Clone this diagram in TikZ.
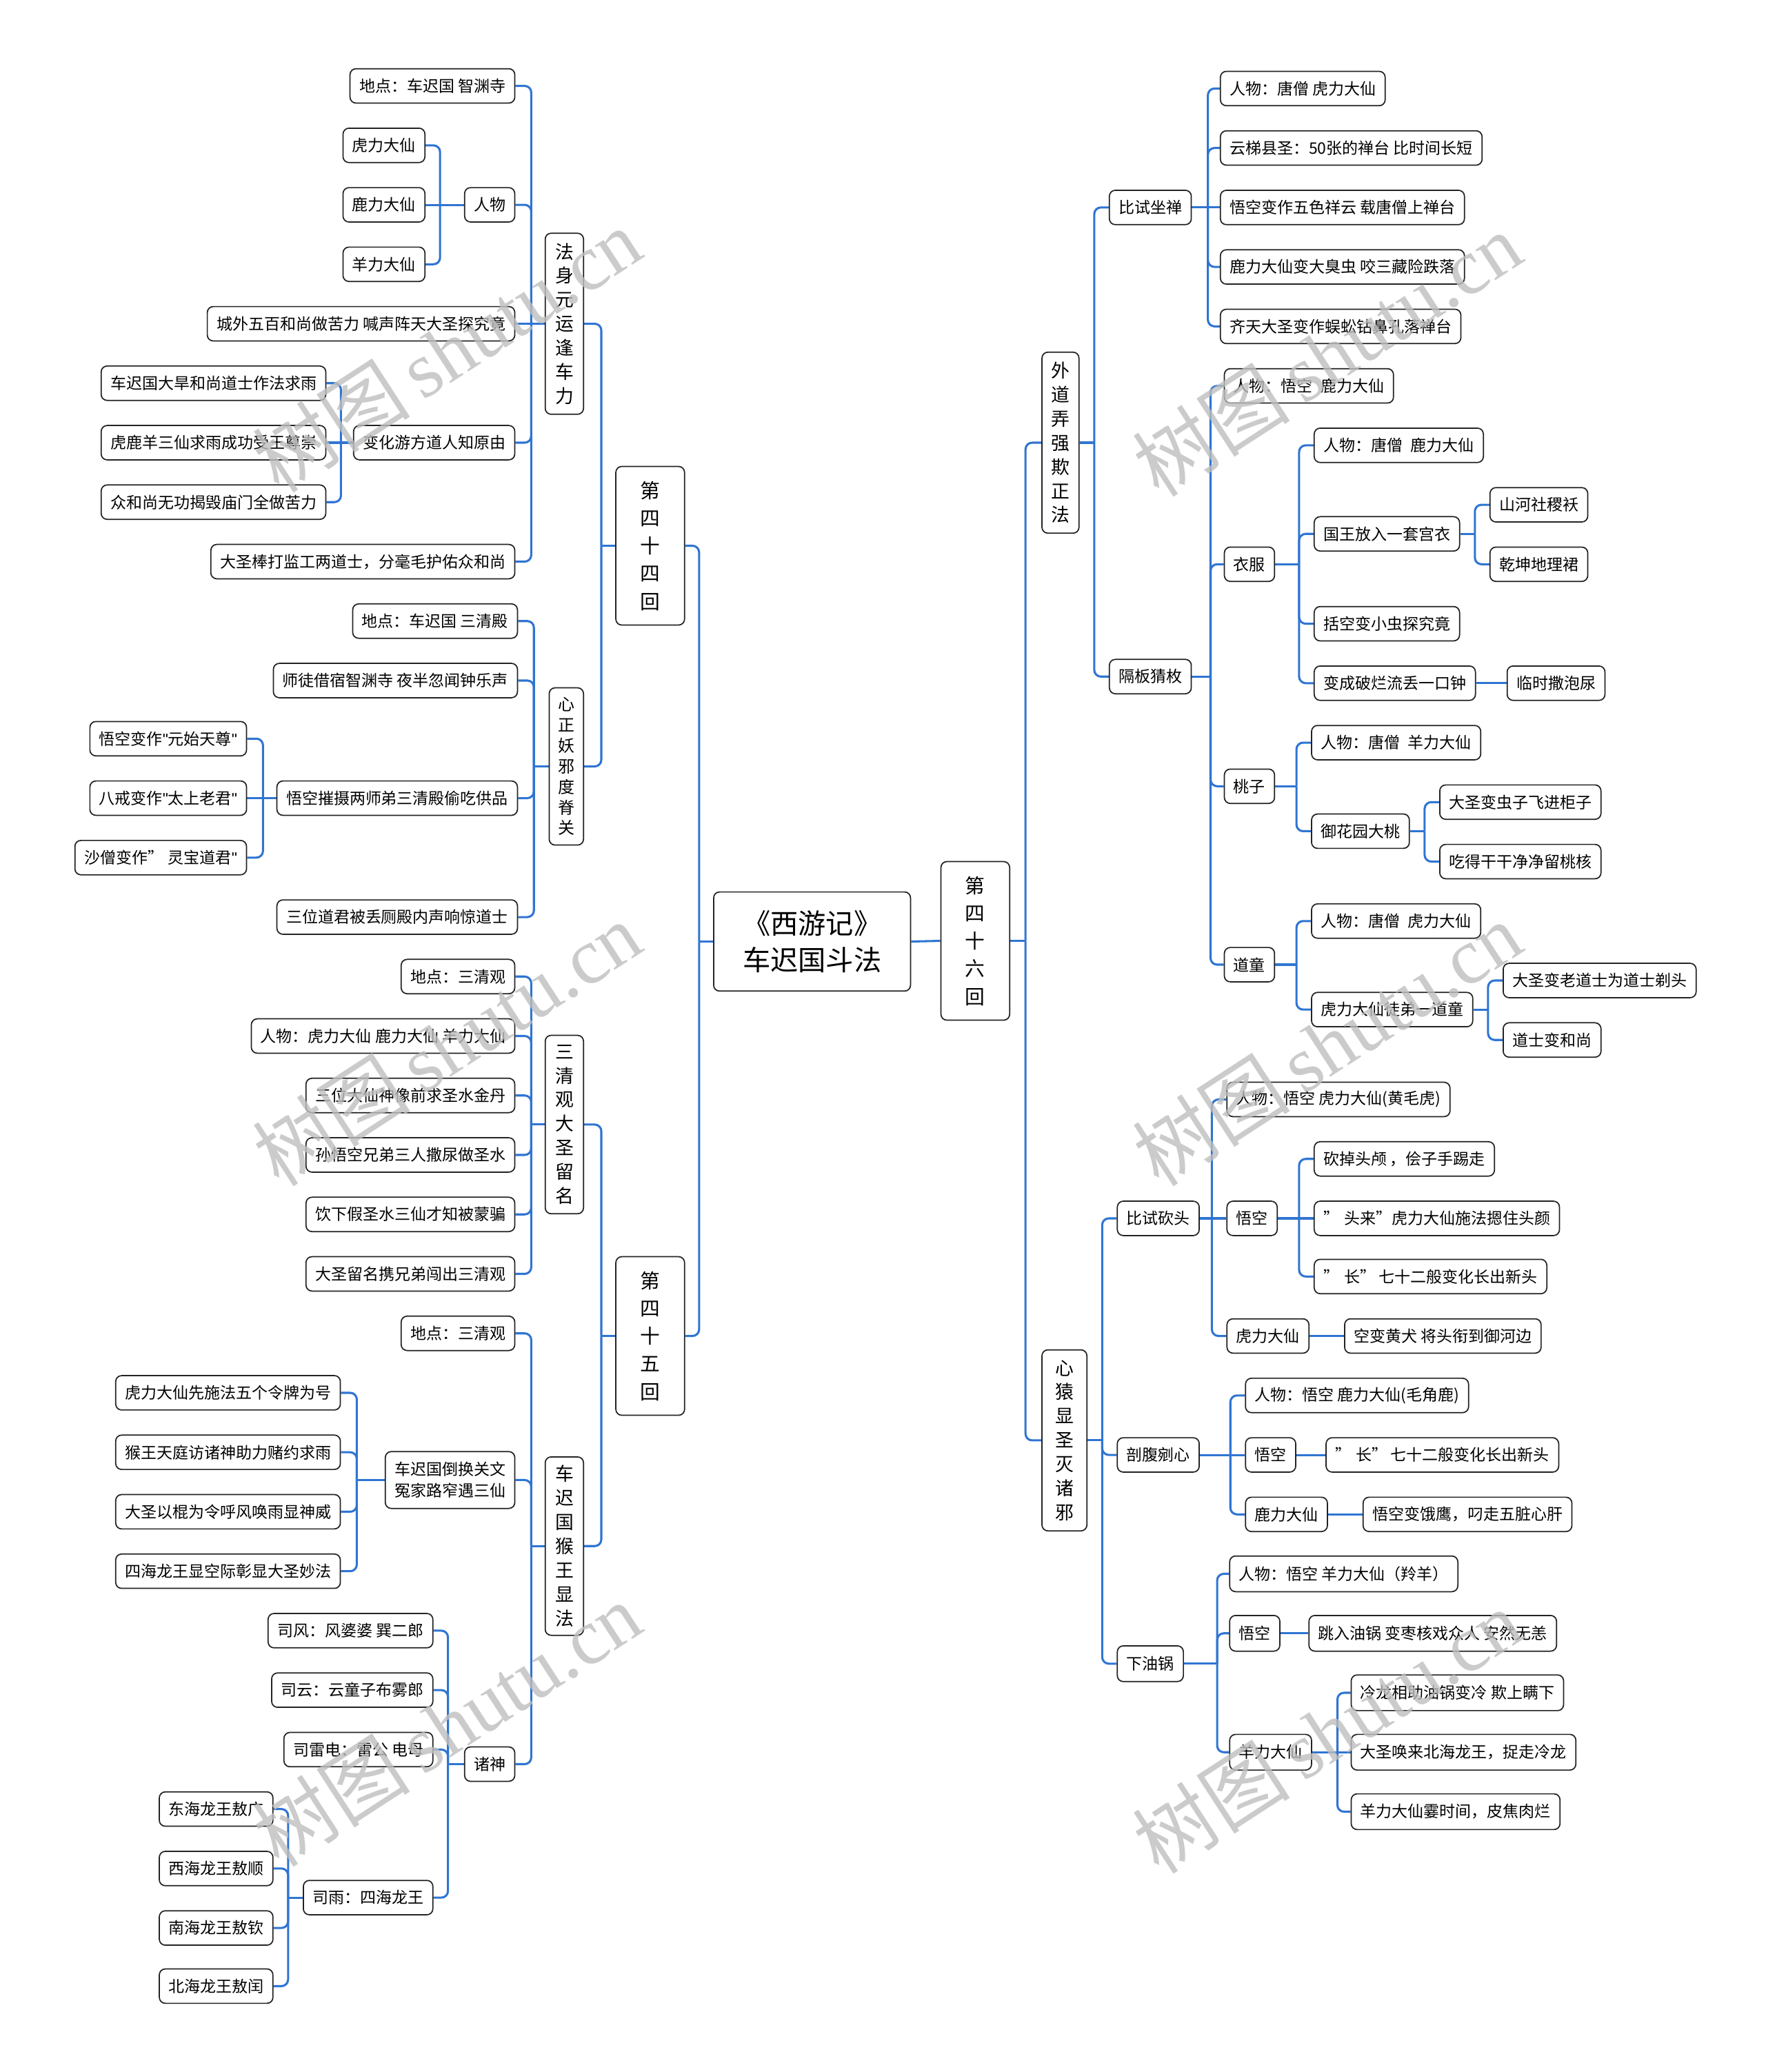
\documentclass[tikz,border=0pt]{standalone}
\usepackage{fontspec}
\setmainfont{Noto Sans CJK SC}
\newfontfamily\wmserif{Liberation Serif}
\newfontfamily\qf{Liberation Sans}
\usetikzlibrary{calc}
\definecolor{lnk}{RGB}{47,117,210}
\definecolor{bd}{RGB}{35,35,35}
\pgfdeclarelayer{bg}
\pgfsetlayers{bg,main}
\tikzset{
 bx/.style={draw=bd, line width=0.9pt, rounded corners=4.5pt, fill=white, font=\fontsize{12}{14}\selectfont, inner xsep=7pt, inner ysep=0pt, minimum height=26pt},
 vb/.style={draw=bd, line width=0.9pt, rounded corners=4.5pt, fill=white, align=center, inner sep=0pt, font=\fontsize{14}{18.2}\selectfont},
 conn/.style={draw=lnk, line width=1.6pt, rounded corners=5pt},
 wm/.style={rotate=33, text=black!25, opacity=0.8, font=\fontsize{60}{60}\selectfont},
}
\newcommand\dq{{\qf "}}
\newcommand\mlk[3]{\draw[conn] (#2.east) -- (#2.east -| #3) -- (#3 |- #1.west);}
\newcommand\mrk[3]{\draw[conn] (#2.west) -- (#2.west -| #3) -- (#3 |- #1.east);}
\newcommand\mls[2]{\draw[conn] (#1.west) -- (#1.west -| #2);}
\newcommand\mrs[2]{\draw[conn] (#1.east) -- (#1.east -| #2);}
\newcommand\mdl[2]{\draw[conn] (#1.west) -- (#2.east);}
\newcommand\mdr[2]{\draw[conn] (#1.east) -- (#2.west);}
\begin{document}
\begin{tikzpicture}[x=1pt,y=-1pt]
\useasboundingbox (0,0) rectangle (1336,1568);

% ---------- spines ----------
\coordinate (s0) at (529,0);
\coordinate (s44) at (455,0);
\coordinate (s45) at (455,0);
\coordinate (sA1) at (402,0);
\coordinate (sA12) at (333,0);
\coordinate (sA14) at (258,0);
\coordinate (sA2) at (404,0);
\coordinate (sA23) at (199,0);
\coordinate (sB1) at (402,0);
\coordinate (sB2) at (402,0);
\coordinate (sB22) at (270,0);
\coordinate (sB23) at (339,0);
\coordinate (sB234) at (218,0);
\coordinate (s46) at (776,0);
\coordinate (sC1) at (828,0);
\coordinate (sC11) at (914,0);
\coordinate (sC12) at (916,0);
\coordinate (sYF) at (983,0);
\coordinate (sGW) at (1116,0);
\coordinate (sTZ) at (981,0);
\coordinate (sYH) at (1078,0);
\coordinate (sDT) at (981,0);
\coordinate (sHT) at (1126,0);
\coordinate (sC2) at (834,0);
\coordinate (sKT) at (917,0);
\coordinate (sKW) at (983,0);
\coordinate (sPF) at (931,0);
\coordinate (sYG) at (921,0);
\coordinate (sYL) at (1012,0);

% ---------- root ----------
\node[draw=bd, line width=0.9pt, rounded corners=4.5pt, fill=white, minimum width=149pt, minimum height=75pt, align=center, inner sep=0pt, font=\fontsize{21}{28}\selectfont] (root) at (614.5,712.5) {《西游记》\\车迟国斗法};

\node[vb, minimum width=52pt, minimum height=120pt, font=\fontsize{15}{21}\selectfont] (L44) at (492,413) {第\\四\\十\\四\\回};
\node[vb, minimum width=52pt, minimum height=120pt, font=\fontsize{15}{21}\selectfont] (L45) at (492,1011) {第\\四\\十\\五\\回};
\node[vb, minimum width=52pt, minimum height=120pt, font=\fontsize{15}{21}\selectfont] (R46) at (738,712) {第\\四\\十\\六\\回};

% ---------- 第四十四回 ----------
\node[vb, minimum width=29pt, minimum height=137pt, anchor=east] (A1) at (442,245) {法\\身\\元\\运\\逢\\车\\力};
\node[vb, minimum width=26pt, minimum height=119pt, anchor=east, font=\fontsize{12.5}{15.6}\selectfont] (A2) at (442,580) {心\\正\\妖\\邪\\度\\脊\\关};

\node[bx, anchor=east] (a11) at (390,65) {地点：车迟国 智渊寺};
\node[bx, anchor=east] (a12) at (390,155) {人物};
\node[bx, anchor=east] (a121) at (322,110) {虎力大仙};
\node[bx, anchor=east] (a122) at (322,155) {鹿力大仙};
\node[bx, anchor=east] (a123) at (322,200) {羊力大仙};
\node[bx, anchor=east] (a13) at (390,245) {城外五百和尚做苦力 喊声阵天大圣探究竟};
\node[bx, anchor=east] (a14) at (390,335) {变化游方道人知原由};
\node[bx, anchor=east] (a141) at (247,290) {车迟国大旱和尚道士作法求雨};
\node[bx, anchor=east] (a142) at (247,335) {虎鹿羊三仙求雨成功受王尊崇};
\node[bx, anchor=east] (a143) at (247,380) {众和尚无功揭毁庙门全做苦力};
\node[bx, anchor=east] (a15) at (390,425) {大圣棒打监工两道士，分毫毛护佑众和尚};

\node[bx, anchor=east] (a21) at (392,470) {地点：车迟国 三清殿};
\node[bx, anchor=east] (a22) at (392,515) {师徒借宿智渊寺 夜半忽闻钟乐声};
\node[bx, anchor=east] (a23) at (392,604) {悟空摧摄两师弟三清殿偷吃供品};
\node[bx, anchor=east] (a231) at (187,559) {悟空变作\dq 元始天尊\dq};
\node[bx, anchor=east] (a232) at (187,604) {八戒变作\dq 太上老君\dq};
\node[bx, anchor=east] (a233) at (187,649) {沙僧变作”\hspace{0.3em}灵宝道君\dq};
\node[bx, anchor=east] (a24) at (392,694) {三位道君被丢厕殿内声响惊道士};

% ---------- 第四十五回 ----------
\node[vb, minimum width=29pt, minimum height=135pt, anchor=east] (B1) at (442,851) {三\\清\\观\\大\\圣\\留\\名};
\node[vb, minimum width=29pt, minimum height=135pt, anchor=east] (B2) at (442,1170) {车\\迟\\国\\猴\\王\\显\\法};

\node[bx, anchor=east] (b11) at (390,739) {地点：三清观};
\node[bx, anchor=east] (b12) at (390,784) {人物：虎力大仙 鹿力大仙 羊力大仙};
\node[bx, anchor=east] (b13) at (390,829) {三位大仙神像前求圣水金丹};
\node[bx, anchor=east] (b14) at (390,874) {孙悟空兄弟三人撒尿做圣水};
\node[bx, anchor=east] (b15) at (390,919) {饮下假圣水三仙才知被蒙骗};
\node[bx, anchor=east] (b16) at (390,964) {大圣留名携兄弟闯出三清观};

\node[bx, anchor=east] (b21) at (390,1009) {地点：三清观};
\node[bx, anchor=east, align=left, minimum height=43pt, font=\fontsize{12}{16}\selectfont] (b22) at (390,1120) {车迟国倒换关文\\冤家路窄遇三仙};
\node[bx, anchor=east] (b221) at (258,1054) {虎力大仙先施法五个令牌为号};
\node[bx, anchor=east] (b222) at (258,1099) {猴王天庭访诸神助力赌约求雨};
\node[bx, anchor=east] (b223) at (258,1144) {大圣以棍为令呼风唤雨显神威};
\node[bx, anchor=east] (b224) at (258,1189) {四海龙王显空际彰显大圣妙法};
\node[bx, anchor=east] (b23) at (390,1335) {诸神};
\node[bx, anchor=east] (b231) at (328,1234) {司风：风婆婆 巽二郎};
\node[bx, anchor=east] (b232) at (328,1279) {司云：云童子布雾郎};
\node[bx, anchor=east] (b233) at (328,1324) {司雷电：雷公 电母};
\node[bx, anchor=east] (b234) at (328,1436) {司雨：四海龙王};
\node[bx, anchor=east] (b2341) at (207,1369) {东海龙王敖广};
\node[bx, anchor=east] (b2342) at (207,1414) {西海龙王敖顺};
\node[bx, anchor=east] (b2343) at (207,1459) {南海龙王敖钦};
\node[bx, anchor=east] (b2344) at (207,1503) {北海龙王敖闰};

% ---------- 第四十六回 ----------
\node[vb, minimum width=28pt, minimum height=137pt, anchor=west] (C1) at (788,335) {外\\道\\弄\\强\\欺\\正\\法};
\node[vb, minimum width=34pt, minimum height=137pt, anchor=west] (C2) at (788,1090) {心\\猿\\显\\圣\\灭\\诸\\邪};

\node[bx, anchor=west] (c11) at (839,157) {比试坐禅};
\node[bx, anchor=west] (c111) at (923,67) {人物：唐僧 虎力大仙\hspace{0.6em}};
\node[bx, anchor=west] (c112) at (923,112) {云梯县圣：50张的禅台 比时间长短};
\node[bx, anchor=west] (c113) at (923,157) {悟空变作五色祥云 载唐僧上禅台};
\node[bx, anchor=west] (c114) at (923,202) {鹿力大仙变大臭虫 咬三藏险跌落};
\node[bx, anchor=west] (c115) at (923,247) {齐天大圣变作蜈蚣钻鼻孔落禅台};

\node[bx, anchor=west] (c12) at (839,512) {隔板猜枚};
\node[bx, anchor=west] (c121) at (926,292) {人物：悟空\hspace{0.5em}鹿力大仙};
\node[bx, anchor=west] (yf) at (926,427) {衣服};
\node[bx, anchor=west] (yf1) at (994,337) {人物：唐僧\hspace{0.5em}鹿力大仙};
\node[bx, anchor=west] (gw) at (994,404) {国王放入一套宫衣};
\node[bx, anchor=west] (gw1) at (1127,382) {山河社稷袄};
\node[bx, anchor=west] (gw2) at (1127,427) {乾坤地理裙};
\node[bx, anchor=west] (yf3) at (994,472) {括空变小虫探究竟};
\node[bx, anchor=west] (yf4) at (994,517) {变成破烂流丢一口钟};
\node[bx, anchor=west] (yf41) at (1140,517) {临时撒泡尿};
\node[bx, anchor=west] (tz) at (926,595) {桃子};
\node[bx, anchor=west] (tz1) at (992,562) {人物：唐僧\hspace{0.5em}羊力大仙};
\node[bx, anchor=west] (yh) at (992,629) {御花园大桃};
\node[bx, anchor=west] (yh1) at (1089,607) {大圣变虫子飞进柜子};
\node[bx, anchor=west] (yh2) at (1089,652) {吃得干干净净留桃核};
\node[bx, anchor=west] (dt) at (926,730) {道童};
\node[bx, anchor=west] (dt1) at (992,697) {人物：唐僧\hspace{0.5em}虎力大仙};
\node[bx, anchor=west] (ht) at (992,764) {虎力大仙徒弟一道童};
\node[bx, anchor=west] (ht1) at (1137,742) {大圣变老道士为道士剃头};
\node[bx, anchor=west] (ht2) at (1137,787) {道士变和尚};

\node[bx, anchor=west] (kt) at (845,922) {比试砍头};
\node[bx, anchor=west] (kt1) at (928,832) {人物：悟空 虎力大仙(黄毛虎)\hspace{1.5em}};
\node[bx, anchor=west] (kw) at (928,922) {悟空};
\node[bx, anchor=west] (kw1) at (994,877) {砍掉头颅\hspace{0.2em}，侩子手踢走};
\node[bx, anchor=west] (kw2) at (994,922) {”\hspace{0.3em}头来”虎力大仙施法摁住头颜};
\node[bx, anchor=west] (kw3) at (994,966) {”\hspace{0.3em}长”\hspace{0.2em}七十二般变化长出新头};
\node[bx, anchor=west] (kh) at (928,1011) {虎力大仙};
\node[bx, anchor=west] (kh1) at (1017,1011) {空变黄犬 将头衔到御河边};

\node[bx, anchor=west] (pf) at (845,1101) {剖腹剜心\hspace{0.6em}};
\node[bx, anchor=west] (pf1) at (942,1056) {人物：悟空 鹿力大仙(毛角鹿)\hspace{1.5em}};
\node[bx, anchor=west] (pw) at (942,1101) {悟空};
\node[bx, anchor=west] (pw1) at (1003,1101) {”\hspace{0.3em}长”\hspace{0.2em}七十二般变化长出新头};
\node[bx, anchor=west] (pl) at (942,1146) {鹿力大仙};
\node[bx, anchor=west] (pl1) at (1031,1146) {悟空变饿鹰，叼走五脏心肝};

\node[bx, anchor=west, minimum height=27pt] (yg) at (845,1259) {下油锅\hspace{0.6em}};
\node[bx, anchor=west, minimum height=27pt] (yg1) at (930,1191) {人物：悟空 羊力大仙（羚羊）\hspace{0.5em}};
\node[bx, anchor=west, minimum height=27pt] (yw) at (930,1236) {悟空};
\node[bx, anchor=west, minimum height=27pt] (yw1) at (990,1236) {跳入油锅 变枣核戏众人 安然无恙};
\node[bx, anchor=west, minimum height=27pt] (yl) at (930,1326) {羊力大仙};
\node[bx, anchor=west, minimum height=27pt] (yl1) at (1022,1281) {冷龙相助油锅变冷 欺上瞒下};
\node[bx, anchor=west, minimum height=27pt] (yl2) at (1022,1326) {大圣唤来北海龙王，捉走冷龙};
\node[bx, anchor=west, minimum height=27pt] (yl3) at (1022,1371) {羊力大仙霎时间，皮焦肉烂};

% ---------- connectors ----------
\begin{pgfonlayer}{bg}
\fill[white] (0,0) rectangle (1336,1568);
\mls{root}{s0} \mlk{root}{L44}{s0} \mlk{root}{L45}{s0}
\mdr{root}{R46}
\mls{L44}{s44} \mlk{L44}{A1}{s44} \mlk{L44}{A2}{s44}
\mls{L45}{s45} \mlk{L45}{B1}{s45} \mlk{L45}{B2}{s45}
\mls{A1}{sA1} \mlk{A1}{a11}{sA1} \mlk{A1}{a12}{sA1} \mdl{A1}{a13} \mlk{A1}{a14}{sA1} \mlk{A1}{a15}{sA1}
\mls{a12}{sA12} \mlk{a12}{a121}{sA12} \mdl{a12}{a122} \mlk{a12}{a123}{sA12}
\mls{a14}{sA14} \mlk{a14}{a141}{sA14} \mdl{a14}{a142} \mlk{a14}{a143}{sA14}
\mls{A2}{sA2} \mlk{A2}{a21}{sA2} \mlk{A2}{a22}{sA2} \mlk{A2}{a23}{sA2} \mlk{A2}{a24}{sA2}
\mls{a23}{sA23} \mlk{a23}{a231}{sA23} \mdl{a23}{a232} \mlk{a23}{a233}{sA23}
\mls{B1}{sB1} \mlk{B1}{b11}{sB1} \mlk{B1}{b12}{sB1} \mlk{B1}{b13}{sB1} \mlk{B1}{b14}{sB1} \mlk{B1}{b15}{sB1} \mlk{B1}{b16}{sB1}
\mls{B2}{sB2} \mlk{B2}{b21}{sB2} \mlk{B2}{b22}{sB2} \mlk{B2}{b23}{sB2}
\mls{b22}{sB22} \mlk{b22}{b221}{sB22} \mlk{b22}{b222}{sB22} \mlk{b22}{b223}{sB22} \mlk{b22}{b224}{sB22}
\mls{b23}{sB23} \mlk{b23}{b231}{sB23} \mlk{b23}{b232}{sB23} \mlk{b23}{b233}{sB23} \mlk{b23}{b234}{sB23}
\mls{b234}{sB234} \mlk{b234}{b2341}{sB234} \mlk{b234}{b2342}{sB234} \mlk{b234}{b2343}{sB234} \mlk{b234}{b2344}{sB234}

\mrs{R46}{s46} \mrk{R46}{C1}{s46} \mrk{R46}{C2}{s46}
\mrs{C1}{sC1} \mrk{C1}{c11}{sC1} \mrk{C1}{c12}{sC1}
\mrs{c11}{sC11} \mrk{c11}{c111}{sC11} \mrk{c11}{c112}{sC11} \mdr{c11}{c113} \mrk{c11}{c114}{sC11} \mrk{c11}{c115}{sC11}
\mrs{c12}{sC12} \mrk{c12}{c121}{sC12} \mrk{c12}{yf}{sC12} \mrk{c12}{tz}{sC12} \mrk{c12}{dt}{sC12}
\mrs{yf}{sYF} \mrk{yf}{yf1}{sYF} \mrk{yf}{gw}{sYF} \mrk{yf}{yf3}{sYF} \mrk{yf}{yf4}{sYF}
\mrs{gw}{sGW} \mrk{gw}{gw1}{sGW} \mrk{gw}{gw2}{sGW}
\mdr{yf4}{yf41}
\mrs{tz}{sTZ} \mrk{tz}{tz1}{sTZ} \mrk{tz}{yh}{sTZ}
\mrs{yh}{sYH} \mrk{yh}{yh1}{sYH} \mrk{yh}{yh2}{sYH}
\mrs{dt}{sDT} \mrk{dt}{dt1}{sDT} \mrk{dt}{ht}{sDT}
\mrs{ht}{sHT} \mrk{ht}{ht1}{sHT} \mrk{ht}{ht2}{sHT}
\mrs{C2}{sC2} \mrk{C2}{kt}{sC2} \mrk{C2}{pf}{sC2} \mrk{C2}{yg}{sC2}
\mrs{kt}{sKT} \mrk{kt}{kt1}{sKT} \mdr{kt}{kw} \mrk{kt}{kh}{sKT}
\mrs{kw}{sKW} \mrk{kw}{kw1}{sKW} \mdr{kw}{kw2} \mrk{kw}{kw3}{sKW}
\mdr{kh}{kh1}
\mrs{pf}{sPF} \mrk{pf}{pf1}{sPF} \mdr{pf}{pw} \mrk{pf}{pl}{sPF}
\mdr{pw}{pw1} \mdr{pl}{pl1}
\mrs{yg}{sYG} \mrk{yg}{yg1}{sYG} \mrk{yg}{yw}{sYG} \mrk{yg}{yl}{sYG}
\mdr{yw}{yw1}
\mrs{yl}{sYL} \mrk{yl}{yl1}{sYL} \mdr{yl}{yl2} \mrk{yl}{yl3}{sYL}
\end{pgfonlayer}

% ---------- watermarks ----------
\foreach \wx/\wy [count=\wi] in {338/265, 338/790, 338/1305, 1004/268, 1004/790, 1004/1310}
  \node[wm] (wm\wi) at (\wx,\wy) {树图\,{\wmserif shutu.cn}};
\end{tikzpicture}
\end{document}
